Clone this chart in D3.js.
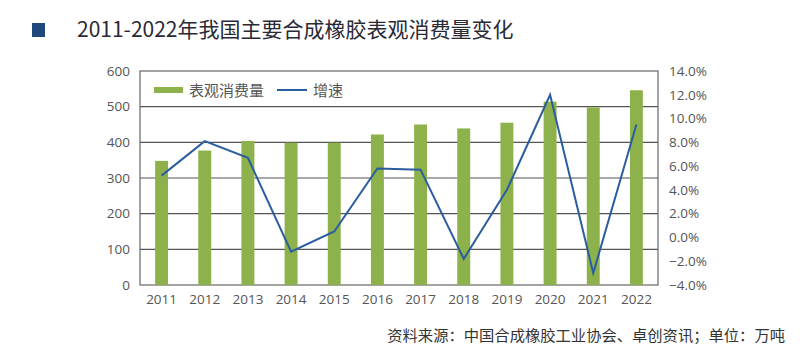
<!DOCTYPE html>
<html>
<head>
<meta charset="utf-8">
<script src="https://cdn.jsdelivr.net/npm/d3@7"></script>
<style>
  html, body { margin: 0; padding: 0; background: #ffffff; }
  svg { display: block; }
  text { font-family: "Noto Sans CJK SC", "Noto Sans", sans-serif; }
</style>
</head>
<body>
<svg id="chart" width="806" height="360"></svg>
<script>
const years = ["2011","2012","2013","2014","2015","2016","2017","2018","2019","2020","2021","2022"];
const consumption = [348, 377, 404, 399, 399, 422, 450, 439, 455, 514, 498, 546];
const growth = [5.2, 8.1, 6.7, -1.2, 0.5, 5.8, 5.7, -1.8, 4.0, 12.0, -3.0, 9.5];
const leftTicks = [0, 100, 200, 300, 400, 500, 600];
const rightTicks = [-4, -2, 0, 2, 4, 6, 8, 10, 12, 14];
const titleText = "2011-2022年我国主要合成橡胶表观消费量变化";
const legendLabels = ["表观消费量", "增速"];
const sourceText = "资料来源：中国合成橡胶工业协会、卓创资讯；单位：万吨";

const svg = d3.select("#chart");
const m = { left: 140, right: 658, top: 71, bottom: 285 };

const x = d3.scaleBand().domain(years).range([m.left, m.right]).paddingInner(0.7).paddingOuter(0.35);
const yL = d3.scaleLinear().domain([0, 600]).range([m.bottom, m.top]);
const yR = d3.scaleLinear().domain([-4, 14]).range([m.bottom, m.top]);

// Title
svg.append("rect").attr("x", 32).attr("y", 23).attr("width", 13).attr("height", 14).attr("fill", "#1f497d");
svg.append("text").attr("x", 77).attr("y", 37).attr("font-size", 21).attr("fill", "#2a2a35")
  .text(titleText);

// Gridlines
svg.append("g").selectAll("line").data(leftTicks.filter(d => d > 0 && d < 600)).join("line")
  .attr("x1", m.left).attr("x2", m.right)
  .attr("y1", d => yL(d)).attr("y2", d => yL(d))
  .attr("stroke", "#555").attr("stroke-width", 1.2);

// Plot border
svg.append("rect").attr("x", m.left).attr("y", m.top)
  .attr("width", m.right - m.left).attr("height", m.bottom - m.top)
  .attr("fill", "none").attr("stroke", "#666").attr("stroke-width", 1.2);

// Bars
svg.append("g").selectAll("rect").data(years).join("rect")
  .attr("x", d => x(d)).attr("width", x.bandwidth())
  .attr("y", (d, i) => yL(consumption[i]))
  .attr("height", (d, i) => yL(0) - yL(consumption[i]))
  .attr("fill", "#8db24b");

// Line
const line = d3.line().x((d, i) => x(years[i]) + x.bandwidth() / 2).y(d => yR(d));
svg.append("path").datum(growth).attr("d", line)
  .attr("fill", "none").attr("stroke", "#2a5d9f").attr("stroke-width", 2).attr("stroke-linejoin", "miter");

// Left axis
const axL = svg.append("g").attr("transform", `translate(${m.left},0)`)
  .call(d3.axisLeft(yL).tickValues(leftTicks).tickSize(0).tickPadding(10));
axL.select(".domain").remove();
axL.selectAll("text").attr("font-size", 13.5).attr("fill", "#555")
  .style("font-family", "'Open Sans', 'Noto Sans', sans-serif");

// Right axis
const axR = svg.append("g").attr("transform", `translate(${m.right},0)`)
  .call(d3.axisRight(yR).tickValues(rightTicks).tickSize(0).tickPadding(11)
    .tickFormat(d => d3.format(".1f")(d) + "%"));
axR.select(".domain").remove();
axR.selectAll("text").attr("font-size", 13.5).attr("fill", "#555")
  .style("font-family", "'Open Sans', 'Noto Sans', sans-serif");

// Bottom axis
const axB = svg.append("g").attr("transform", `translate(0,${m.bottom})`)
  .call(d3.axisBottom(x).tickSize(0).tickPadding(9));
axB.select(".domain").remove();
axB.selectAll("text").attr("font-size", 13.5).attr("fill", "#555")
  .style("font-family", "'Open Sans', 'Noto Sans', sans-serif");

// Legend
const lg = svg.append("g");
lg.append("rect").attr("x", 154).attr("y", 87).attr("width", 29).attr("height", 6).attr("fill", "#8db24b");
lg.append("text").attr("x", 189).attr("y", 95.5).attr("font-size", 15).attr("fill", "#555").text(legendLabels[0]);
lg.append("line").attr("x1", 277).attr("x2", 307).attr("y1", 90).attr("y2", 90)
  .attr("stroke", "#2a5d9f").attr("stroke-width", 2);
lg.append("text").attr("x", 313).attr("y", 95.5).attr("font-size", 15).attr("fill", "#555").text(legendLabels[1]);

// Source
svg.append("text").attr("x", 785).attr("y", 341).attr("text-anchor", "end")
  .attr("font-size", 15.3).attr("fill", "#333").text(sourceText);
</script>
</body>
</html>
